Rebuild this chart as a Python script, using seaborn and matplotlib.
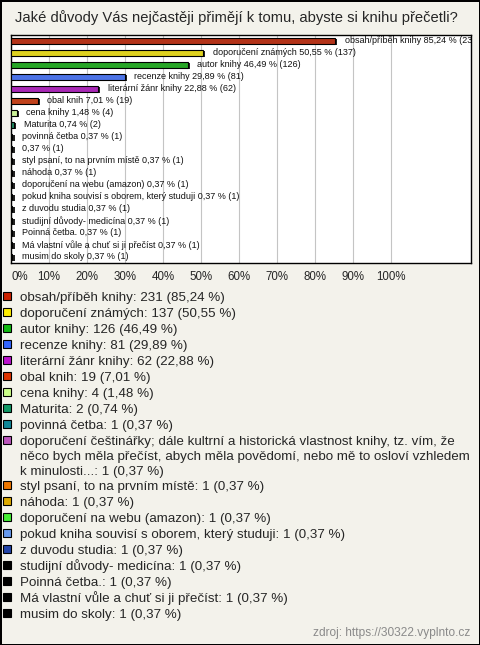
import pandas as pd
import seaborn as sns
import matplotlib.pyplot as plt
import matplotlib.patheffects as pe
from matplotlib.patches import Rectangle

# answers (bar label text, legend text) and counts / percentages
bar_names = ['obsah/příběh knihy', 'doporučení známých', 'autor knihy', 'recenze knihy',
             'literární žánr knihy', 'obal knih', 'cena knihy', 'Maturita', 'povinná četba',
             '', 'styl psaní, to na prvním místě', 'náhoda', 'doporučení na webu (amazon)',
             'pokud kniha souvisí s oborem, který studuji', 'z duvodu studia',
             'studijní důvody- medicína', 'Poinná četba.', 'Má vlastní vůle a chuť si ji přečíst',
             'musim do skoly']
legend_names = bar_names.copy()
legend_names[9] = ('doporučení češtinářky; dále kultrní a historická vlastnost knihy, tz. vím, že\n'
                   'něco bych měla přečíst, abych měla povědomí, nebo mě to osloví vzhledem\n'
                   'k minulosti...')
counts = [231, 137, 126, 81, 62, 19, 4, 2, 1, 1, 1, 1, 1, 1, 1, 1, 1, 1, 1]
percents = [85.24, 50.55, 46.49, 29.89, 22.88, 7.01, 1.48, 0.74, 0.37, 0.37, 0.37, 0.37,
            0.37, 0.37, 0.37, 0.37, 0.37, 0.37, 0.37]
colors = ['#cc2200', '#ffee00', '#11bb11', '#3366ff', '#bb11cc', '#dd3300', '#ccff88',
          '#119966', '#118899', '#bb55bb', '#ee7700', '#ddaa00', '#44ee33', '#6699ee',
          '#2244aa', '#000000', '#000000', '#000000', '#000000']
x_ticks = [0, 10, 20, 30, 40, 50, 60, 70, 80, 90, 100]

W, H = 480, 645

def cz(v):
    return f'{v:.2f}'.replace('.', ',')

df = pd.DataFrame({'id': [str(i) for i in range(len(counts))], 'pct': percents})

sns.set_style('white')
plt.rcParams['font.family'] = ['Liberation Sans', 'DejaVu Sans']

bg = '#f3f2eb'
fig = plt.figure(figsize=(4.8, 6.45), dpi=100, facecolor=bg)
fig.patch.set_edgecolor('black')
fig.patch.set_linewidth(2)
ax = fig.add_axes([11 / W, 1 - 263 / H, 460 / W, 228 / H])
ax.set_facecolor('white')

sns.barplot(data=df, x='pct', y='id', hue='id', palette=colors, legend=False,
            orient='h', width=0.5, edgecolor='black', linewidth=0.8, ax=ax, zorder=3)
for bar in ax.patches:
    bar.set_path_effects([pe.SimplePatchShadow(offset=(1.6, -1.0), shadow_rgbFace='#222222', alpha=1),
                          pe.Normal()])

# value labels right of each bar (the top one runs into the frame, as in the original)
for i, (n, p, c) in enumerate(zip(bar_names, percents, counts)):
    txt = f'{n} {cz(p)} % ({c})' if n else f'{cz(p)} % ({c})'
    ax.annotate(txt, xy=(p, i), xytext=(7, 0), textcoords='offset points',
                va='center', ha='left', fontsize=6.45, color='#111111',
                annotation_clip=False, clip_on=True, zorder=4)

ax.set_xlim(0, 121)
ax.set_ylim(18.5, -0.5)
ax.set_xticks(x_ticks)
ax.set_xticklabels([f'{t}%' for t in x_ticks], fontsize=8.3)
ax.get_xticklabels()[0].set_horizontalalignment('left')
ax.tick_params(axis='x', length=0, pad=6)
ax.set_yticks([])
ax.set_xlabel('')
ax.set_ylabel('')
ax.grid(axis='x', color='#c4c4c4', linewidth=0.8, zorder=0)
ax.set_axisbelow(True)
for s in ax.spines.values():
    s.set_color('black')
    s.set_linewidth(1)
    s.set_visible(True)

fig.text(236 / W, 1 - 18 / H, 'Jaké důvody Vás nejčastěji přimějí k tomu, abyste si knihu přečetli?',
         ha='center', va='center', fontsize=10.6)

# legend below the chart, wrapped items continue on following lines
y = 296
for n, c, p, col in zip(legend_names, counts, percents, colors):
    fig.add_artist(Rectangle((3 / W, 1 - (y + 4) / H), 8 / W, 8 / H, transform=fig.transFigure,
                             facecolor=col, edgecolor='black', linewidth=0.8))
    lines = f'{n}: {c} ({cz(p)} %)'.split('\n')
    for k, line in enumerate(lines):
        fig.text(20 / W, 1 - (y + 4.8 + 15 * k) / H, line, ha='left', va='baseline', fontsize=9.6)
    y += 16 + 14.5 * (len(lines) - 1)

fig.text(470 / W, 1 - 633 / H, 'zdroj: https://30322.vyplnto.cz', ha='right', va='center',
         fontsize=8.6, color='#8a8a8a')

plt.savefig('out.png', dpi=100, facecolor=bg, edgecolor='black')
